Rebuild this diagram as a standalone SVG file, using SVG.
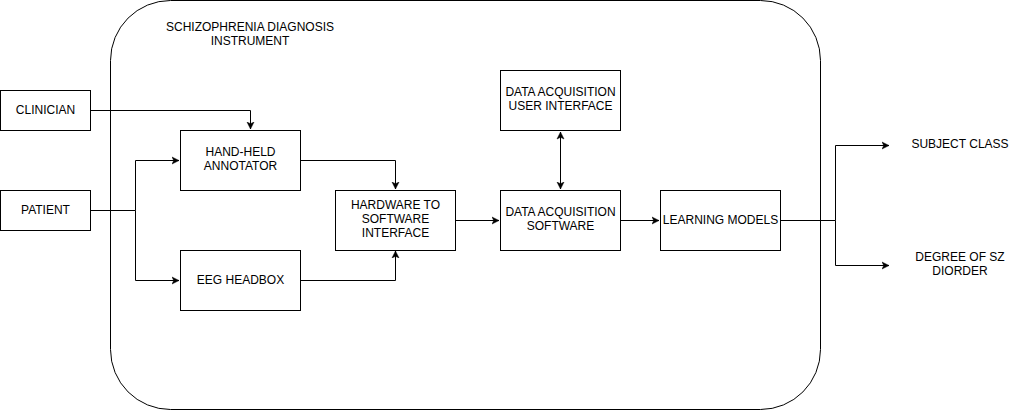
<svg xmlns="http://www.w3.org/2000/svg" width="1032" height="411" viewBox="0 0 1032 411">
<style>
.box{fill:#fff;stroke:#000;stroke-width:1}
.t{font-family:"Liberation Sans",Arial,Helvetica,sans-serif;font-size:12px;fill:#000;text-anchor:middle}
.c{fill:none;stroke:#000;stroke-width:1}
</style>
<defs>
<marker id="ah" markerWidth="10" markerHeight="10" refX="7" refY="3.5" orient="auto" markerUnits="userSpaceOnUse" viewBox="0 0 10 7">
<path d="M0,0 L7,3.5 L0,7 L1.75,3.5 Z" fill="#000" stroke="#000" stroke-width="0.5"/>
</marker>
<marker id="as" markerWidth="10" markerHeight="10" refX="0" refY="3.5" orient="auto" markerUnits="userSpaceOnUse" viewBox="0 0 10 7">
<path d="M7,0 L0,3.5 L7,7 L5.25,3.5 Z" fill="#000" stroke="#000" stroke-width="0.5"/>
</marker>
</defs>
<rect width="1032" height="411" fill="#fff"/>
<g id="container">
<rect class="box" x="110.5" y="0.5" width="710" height="409" rx="60" ry="60"/>
<text class="t" x="250" y="31">SCHIZOPHRENIA DIAGNOSIS</text>
<text class="t" x="250" y="45">INSTRUMENT</text>
</g>
<g id="connectors">
<path class="c" d="M90.5,110.5 H250.5 V129" marker-end="url(#ah)"/>
<path class="c" d="M90.5,210.5 H135.5 V160.5 H179" marker-end="url(#ah)"/>
<path class="c" d="M135.5,210.5 V280.5 H179" marker-end="url(#ah)"/>
<path class="c" d="M300.5,160.5 H395.5 V189" marker-end="url(#ah)"/>
<path class="c" d="M300.5,280.5 H395.5 V251" marker-end="url(#ah)"/>
<path class="c" d="M455.5,220.5 H499" marker-end="url(#ah)"/>
<path class="c" d="M560.5,132 V189" marker-start="url(#as)" marker-end="url(#ah)"/>
<path class="c" d="M620.5,220.5 H659" marker-end="url(#ah)"/>
<path class="c" d="M780.5,220.5 H835.5 V145.5 H889" marker-end="url(#ah)"/>
<path class="c" d="M835.5,220.5 V265.5 H889" marker-end="url(#ah)"/>
</g>
<g id="clinician">
<rect class="box" x="0.5" y="90.5" width="90" height="40"/>
<text class="t" x="45.5" y="114">CLINICIAN</text>
</g>
<g id="patient">
<rect class="box" x="0.5" y="190.5" width="90" height="40"/>
<text class="t" x="45.5" y="214">PATIENT</text>
</g>
<g id="annotator">
<rect class="box" x="180.5" y="130.5" width="120" height="60"/>
<text class="t" x="240.5" y="156">HAND-HELD</text>
<text class="t" x="240.5" y="170">ANNOTATOR</text>
</g>
<g id="eeg">
<rect class="box" x="180.5" y="250.5" width="120" height="60"/>
<text class="t" x="240.5" y="284">EEG HEADBOX</text>
</g>
<g id="hwsw">
<rect class="box" x="335.5" y="190.5" width="120" height="60"/>
<text class="t" x="395.5" y="209">HARDWARE TO</text>
<text class="t" x="395.5" y="223">SOFTWARE</text>
<text class="t" x="395.5" y="237">INTERFACE</text>
</g>
<g id="daui">
<rect class="box" x="500.5" y="70.5" width="120" height="60"/>
<text class="t" x="560.5" y="96">DATA ACQUISITION</text>
<text class="t" x="560.5" y="110">USER INTERFACE</text>
</g>
<g id="das">
<rect class="box" x="500.5" y="190.5" width="120" height="60"/>
<text class="t" x="560.5" y="216">DATA ACQUISITION</text>
<text class="t" x="560.5" y="230">SOFTWARE</text>
</g>
<g id="lm">
<rect class="box" x="660.5" y="190.5" width="120" height="60"/>
<text class="t" x="720.5" y="224">LEARNING MODELS</text>
</g>
<g id="subject-class">
<text class="t" x="960" y="148">SUBJECT CLASS</text>
</g>
<g id="degree">
<text class="t" x="960" y="261">DEGREE OF SZ</text>
<text class="t" x="960" y="275">DIORDER</text>
</g>
</svg>
